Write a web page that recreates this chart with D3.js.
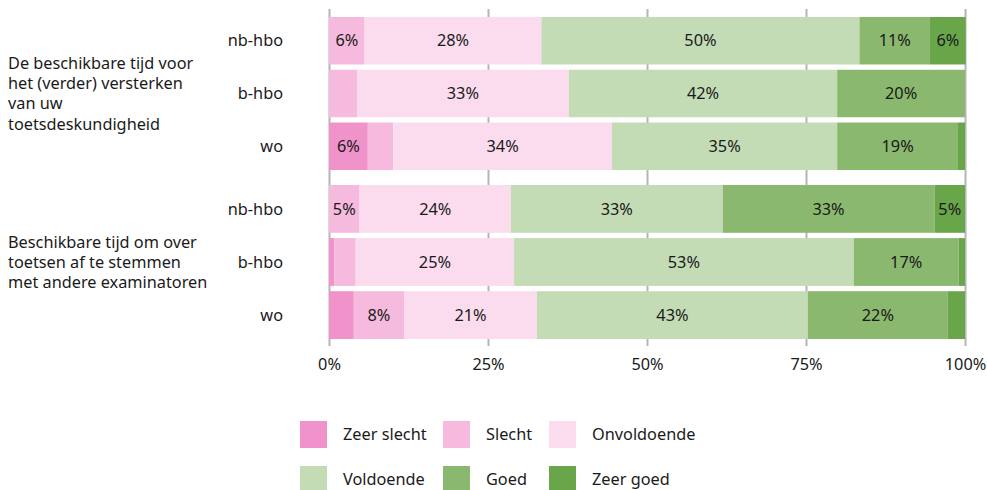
<!DOCTYPE html>
<html>
<head>
<meta charset="utf-8">
<script src="https://cdn.jsdelivr.net/npm/d3@7"></script>
<style>
  body { margin: 0; background: #fff; }
  svg text { font-family: "Noto Sans", "Open Sans", sans-serif; fill: #1a1a1a; }
</style>
</head>
<body>
<svg id="chart"></svg>
<script>
// rows: two questions, three education types each
var groups = [
  ["De beschikbare tijd voor", "het (verder) versterken", "van uw", "toetsdeskundigheid"],
  ["Beschikbare tijd om over", "toetsen af te stemmen", "met andere examinatoren"]
];
var categories = ["nb-hbo", "b-hbo", "wo"];

var seriesNames = ["Zeer slecht", "Slecht", "Onvoldoende", "Voldoende", "Goed", "Zeer goed"];
var seriesColors = ["#f093cb", "#f5badd", "#fbdcee", "#c4dcb5", "#8ab86f", "#69a649"];

// percentages, rows in order: group1 nb-hbo, b-hbo, wo, group2 nb-hbo, b-hbo, wo
var zeerSlecht  = [0,    0,    6.1,  0,    0.8,  3.9];
var slecht      = [5.6,  4.4,  4.0,  4.8,  3.4,  7.9];
var onvoldoende = [27.8, 33.3, 34.4, 23.8, 24.9, 20.9];
var voldoende   = [50,   42.2, 35.4, 33.3, 53.4, 42.6];
var goed        = [11.1, 20.1, 19,   33.3, 16.5, 22];
var zeerGoed    = [5.6,  0,    1.1,  4.8,  1.0,  2.7];

var tickValues = [0, 25, 50, 75, 100];

var width = 987, height = 490;
var fontSize = 16.3;
var svg = d3.select("#chart").attr("width", width).attr("height", height);

var x = d3.scaleLinear().domain([0, 100]).range([329, 965]);

// one band scale per question group
var groupRanges = [[17, 170], [185, 339]];
var yScales = groupRanges.map(function (r) {
  return d3.scaleBand().domain(categories).range(r).paddingInner(0.1);
});

var allSeries = [zeerSlecht, slecht, onvoldoende, voldoende, goed, zeerGoed];
var rows = [];
for (var g = 0; g < groups.length; g++) {
  categories.forEach(function (c, ci) {
    var idx = g * categories.length + ci;
    var row = { group: g, cat: c };
    seriesNames.forEach(function (s, si) { row[s] = allSeries[si][idx]; });
    rows.push(row);
  });
}

var stacked = d3.stack().keys(seriesNames)(rows);

// grid + axis
var axis = d3.axisBottom(x)
  .tickValues(tickValues)
  .tickFormat(function (d) { return d + "%"; })
  .tickSizeInner(-(346 - 9))
  .tickSizeOuter(0)
  .tickPadding(12);

var gAxis = svg.append("g")
  .attr("transform", "translate(0,346)")
  .call(axis);
gAxis.select(".domain").remove();
gAxis.selectAll(".tick line").attr("stroke", "#b5b5b5").attr("stroke-width", 2);
gAxis.selectAll(".tick text")
  .attr("font-size", fontSize)
  .attr("font-family", "'Noto Sans', sans-serif")
  .attr("fill", "#1a1a1a");

// bars
var layers = svg.selectAll("g.layer")
  .data(stacked)
  .enter().append("g")
  .attr("class", "layer")
  .attr("fill", function (d, i) { return seriesColors[i]; });

layers.selectAll("rect")
  .data(function (d) { return d; })
  .enter().append("rect")
  .attr("x", function (d) { return x(d[0]); })
  .attr("width", function (d) { return Math.max(0, x(d[1]) - x(d[0])); })
  .attr("y", function (d) { return yScales[d.data.group](d.data.cat); })
  .attr("height", function (d) { return yScales[d.data.group].bandwidth(); });

// value labels
layers.selectAll("text")
  .data(function (d) { return d.filter(function (p) { return p[1] - p[0] >= 4.5; }); })
  .enter().append("text")
  .attr("x", function (d) { return (x(d[0]) + x(d[1])) / 2; })
  .attr("y", function (d) {
    var ys = yScales[d.data.group];
    return ys(d.data.cat) + ys.bandwidth() / 2;
  })
  .attr("dy", "0.35em")
  .attr("text-anchor", "middle")
  .attr("font-size", fontSize)
  .text(function (d) { return Math.round(d[1] - d[0]) + "%"; });

// category labels
rows.forEach(function (r) {
  var ys = yScales[r.group];
  svg.append("text")
    .attr("x", 283)
    .attr("y", ys(r.cat) + ys.bandwidth() / 2)
    .attr("dy", "0.35em")
    .attr("text-anchor", "end")
    .attr("font-size", fontSize)
    .text(r.cat);
});

// group labels, centred on the middle bar of each group
groups.forEach(function (lines, g) {
  var ys = yScales[g];
  var cy = ys(categories[1]) + ys.bandwidth() / 2;
  var lh = 20.2;
  var t = svg.append("text").attr("font-size", fontSize);
  lines.forEach(function (l, i) {
    t.append("tspan")
      .attr("x", 8)
      .attr("y", cy + (i - (lines.length - 1) / 2) * lh)
      .attr("dy", "0.35em")
      .text(l);
  });
});

// legend
var legend = svg.append("g");
var legX = [300, 443, 549], legY = [421, 466];
seriesNames.forEach(function (s, i) {
  var lx = legX[i % 3], ly = legY[Math.floor(i / 3)];
  legend.append("rect")
    .attr("x", lx).attr("y", ly)
    .attr("width", 27).attr("height", 27)
    .attr("fill", seriesColors[i]);
  legend.append("text")
    .attr("x", lx + 43)
    .attr("y", ly + 13.5)
    .attr("dy", "0.35em")
    .attr("font-size", fontSize)
    .text(s);
});
</script>
</body>
</html>
